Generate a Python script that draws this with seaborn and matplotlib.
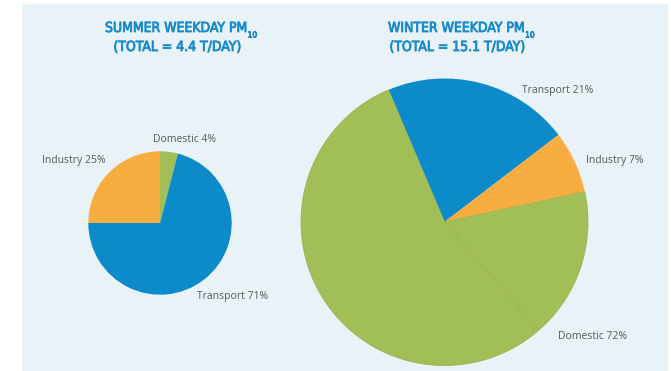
import matplotlib
matplotlib.use("Agg")
import matplotlib.pyplot as plt
import matplotlib.patheffects as pe
from matplotlib.patches import Rectangle
import seaborn as sns

# ---- data ----
summer_categories = ["Industry", "Domestic", "Transport"]
summer_values = [25, 4, 71]
summer_labels = ["Industry 25%", "Domestic 4%", "Transport 71%"]

winter_categories = ["Transport", "Industry", "Domestic", "Domestic"]
winter_values = [21, 7, 17, 55]
winter_labels = ["Transport 21%", "Industry 7%", "Domestic 72%"]

summer_title = ["SUMMER WEEKDAY PM", "(TOTAL = 4.4 T/DAY)"]
winter_title = ["WINTER WEEKDAY PM", "(TOTAL = 15.1 T/DAY)"]
subscript = "10"

sns.set_theme(style="white")
plt.rcParams["font.family"] = ["Open Sans", "DejaVu Sans"]

palette = {"Transport": "#0C8AC9", "Industry": "#F8AD40", "Domestic": "#A2BE56"}

W, H = 671, 371
fig = plt.figure(figsize=(W / 100, H / 100), dpi=100)
fig.patch.set_facecolor("white")
ax = fig.add_axes([0, 0, 1, 1])

# panel background
ax.add_patch(Rectangle((22, 0), 646, H - 4, facecolor="#E9F2F6", edgecolor="none", zorder=0))

# summer pie
ax.pie(summer_values, colors=[palette[c] for c in summer_categories],
       startangle=180, counterclock=False, center=(160, 148), radius=71.7,
       wedgeprops=dict(linewidth=0), frame=True)

# winter pie
wcols = [palette[c] for c in winter_categories]
wedges, _ = ax.pie(winter_values, colors=wcols,
                   startangle=113, counterclock=False, center=(444.5, 149), radius=143.5,
                   wedgeprops=dict(linewidth=0), frame=True)
for w in wedges[2:]:
    w.set_edgecolor("#9AB552")
    w.set_linewidth(0.6)

ax.set_xlim(0, W)
ax.set_ylim(0, H)
ax.set_aspect("auto")
ax.axis("off")

lab_kw = dict(fontsize=7.5, color="#595959", va="center", ha="left", family=["Open Sans", "DejaVu Sans"])
ax.text(42, H - 160.5, summer_labels[0], **lab_kw)
ax.text(153, H - 140, summer_labels[1], **lab_kw)
ax.text(197, H - 296.5, summer_labels[2], **lab_kw)
ax.text(521.5, H - 90.5, winter_labels[0], **lab_kw)
ax.text(586.5, H - 161, winter_labels[1], **lab_kw)
ax.text(558, H - 336.5, winter_labels[2], **lab_kw)

tcol = "#1B8ACB"
tkw = dict(fontsize=10, color=tcol, va="center", family="DejaVu Sans", stretch="condensed",
           weight="normal", path_effects=[pe.withStroke(linewidth=0.6, foreground=tcol)])
fig.canvas.draw()
r = fig.canvas.get_renderer()
for (l1, l2), x_left, x_c2 in [(summer_title, 105, 177.5), (winter_title, 388, 457.5)]:
    t1 = ax.text(x_left, H - 28, l1, ha="left", **tkw)
    bb = t1.get_window_extent(renderer=r)
    ax.text(bb.x1 + 0.5, H - 35, subscript, ha="left", **{**tkw, "fontsize": 6})
    ax.text(x_c2, H - 47, l2, ha="center", **tkw)

fig.savefig("out.png", dpi=100, facecolor="white")
